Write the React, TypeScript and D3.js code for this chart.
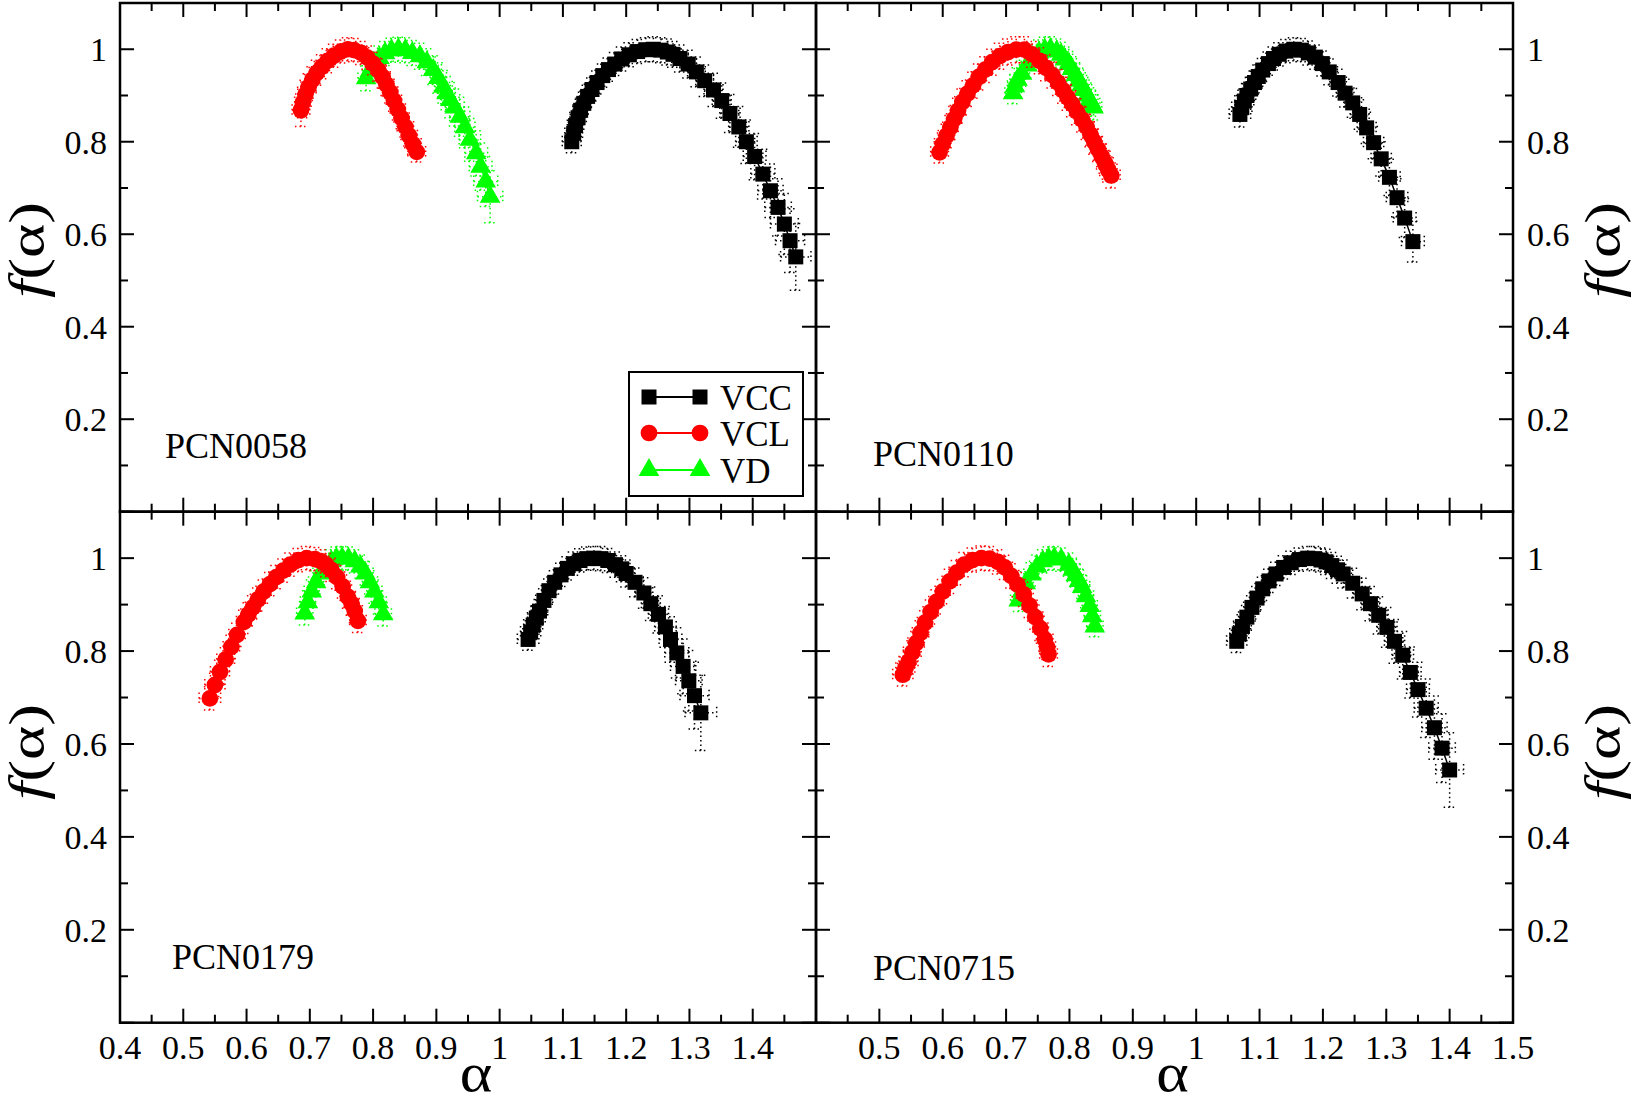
import React, { useEffect, useRef } from 'react';
import * as d3 from 'd3';

// one point: [alpha, f(alpha), error in alpha, error in f]
type Pt = [number, number, number, number];

// ---- PCN0058 ----
const vcc0058: Pt[] = [
  [1.114, 0.800, 0.015, 0.024], [1.117, 0.818, 0.014, 0.024], [1.120, 0.835, 0.013, 0.024],
  [1.124, 0.852, 0.013, 0.024], [1.128, 0.868, 0.012, 0.024], [1.133, 0.883, 0.012, 0.024],
  [1.139, 0.898, 0.012, 0.024], [1.146, 0.913, 0.012, 0.025], [1.154, 0.928, 0.012, 0.025],
  [1.163, 0.943, 0.012, 0.025], [1.172, 0.956, 0.012, 0.025], [1.182, 0.968, 0.012, 0.025],
  [1.193, 0.979, 0.012, 0.026], [1.205, 0.988, 0.012, 0.026], [1.218, 0.995, 0.012, 0.026],
  [1.231, 0.999, 0.012, 0.026], [1.243, 1.000, 0.012, 0.027], [1.255, 0.998, 0.012, 0.027],
  [1.265, 0.994, 0.013, 0.028], [1.274, 0.989, 0.013, 0.028], [1.285, 0.980, 0.013, 0.029],
  [1.298, 0.968, 0.013, 0.030], [1.311, 0.951, 0.014, 0.032], [1.324, 0.932, 0.014, 0.034],
  [1.338, 0.912, 0.015, 0.036], [1.351, 0.889, 0.015, 0.038], [1.364, 0.861, 0.016, 0.041],
  [1.378, 0.832, 0.016, 0.044], [1.390, 0.800, 0.017, 0.047], [1.403, 0.768, 0.018, 0.050],
  [1.416, 0.730, 0.019, 0.054], [1.428, 0.694, 0.020, 0.058], [1.440, 0.658, 0.021, 0.062],
  [1.450, 0.622, 0.022, 0.066], [1.459, 0.586, 0.023, 0.069], [1.468, 0.551, 0.024, 0.072],
];
const vcl0058: Pt[] = [
  [0.686, 0.868, 0.014, 0.035], [0.689, 0.885, 0.013, 0.033], [0.693, 0.902, 0.012, 0.031],
  [0.698, 0.918, 0.012, 0.029], [0.704, 0.934, 0.012, 0.028], [0.711, 0.949, 0.012, 0.027],
  [0.719, 0.962, 0.012, 0.026], [0.728, 0.975, 0.012, 0.026], [0.738, 0.986, 0.012, 0.025],
  [0.749, 0.995, 0.012, 0.025], [0.760, 1.000, 0.012, 0.025], [0.770, 0.998, 0.012, 0.025],
  [0.781, 0.992, 0.012, 0.025], [0.791, 0.982, 0.012, 0.025], [0.800, 0.969, 0.012, 0.024],
  [0.808, 0.955, 0.012, 0.024], [0.815, 0.940, 0.012, 0.024], [0.821, 0.924, 0.012, 0.024],
  [0.827, 0.907, 0.012, 0.023], [0.833, 0.889, 0.012, 0.023], [0.839, 0.870, 0.012, 0.023],
  [0.845, 0.851, 0.012, 0.023], [0.851, 0.832, 0.013, 0.022], [0.857, 0.813, 0.013, 0.022],
  [0.863, 0.795, 0.013, 0.022], [0.869, 0.778, 0.014, 0.022],
];
const vd0058: Pt[] = [
  [0.789, 0.937, 0.013, 0.027], [0.795, 0.953, 0.012, 0.026], [0.802, 0.968, 0.012, 0.026],
  [0.810, 0.981, 0.012, 0.026], [0.819, 0.991, 0.012, 0.026], [0.829, 0.998, 0.012, 0.026],
  [0.840, 1.000, 0.012, 0.026], [0.851, 0.998, 0.012, 0.027], [0.862, 0.992, 0.012, 0.027],
  [0.874, 0.985, 0.012, 0.028], [0.885, 0.972, 0.013, 0.029], [0.895, 0.955, 0.013, 0.031],
  [0.903, 0.938, 0.013, 0.033], [0.911, 0.919, 0.014, 0.035], [0.916, 0.905, 0.014, 0.036],
  [0.922, 0.890, 0.015, 0.038], [0.929, 0.874, 0.015, 0.040], [0.937, 0.854, 0.016, 0.042],
  [0.945, 0.831, 0.016, 0.044], [0.953, 0.804, 0.017, 0.046], [0.963, 0.775, 0.018, 0.049],
  [0.970, 0.746, 0.018, 0.051], [0.978, 0.714, 0.019, 0.054], [0.985, 0.681, 0.020, 0.056],
];

// ---- PCN0110 ----
const vcc0110: Pt[] = [
  [1.069, 0.859, 0.017, 0.027], [1.072, 0.874, 0.016, 0.026], [1.076, 0.888, 0.015, 0.026],
  [1.080, 0.900, 0.014, 0.026], [1.086, 0.914, 0.013, 0.025], [1.092, 0.928, 0.013, 0.025],
  [1.098, 0.941, 0.012, 0.025], [1.105, 0.955, 0.012, 0.025], [1.114, 0.969, 0.012, 0.025],
  [1.122, 0.980, 0.012, 0.025], [1.131, 0.989, 0.012, 0.025], [1.142, 0.996, 0.012, 0.025],
  [1.154, 1.000, 0.012, 0.025], [1.166, 0.998, 0.012, 0.025], [1.177, 0.992, 0.012, 0.026],
  [1.188, 0.983, 0.012, 0.026], [1.199, 0.969, 0.012, 0.027], [1.210, 0.951, 0.013, 0.028],
  [1.224, 0.928, 0.013, 0.029], [1.235, 0.905, 0.014, 0.030], [1.247, 0.884, 0.014, 0.031],
  [1.258, 0.859, 0.015, 0.032], [1.269, 0.830, 0.015, 0.034], [1.280, 0.798, 0.016, 0.035],
  [1.292, 0.763, 0.016, 0.037], [1.305, 0.723, 0.017, 0.039], [1.317, 0.679, 0.017, 0.041],
  [1.329, 0.635, 0.018, 0.042], [1.342, 0.584, 0.018, 0.044],
];
const vcl0110: Pt[] = [
  [0.595, 0.777, 0.014, 0.023], [0.600, 0.795, 0.013, 0.024], [0.606, 0.813, 0.013, 0.025],
  [0.612, 0.831, 0.012, 0.026], [0.618, 0.849, 0.012, 0.027], [0.624, 0.867, 0.012, 0.027],
  [0.631, 0.886, 0.012, 0.028], [0.639, 0.904, 0.012, 0.028], [0.648, 0.922, 0.012, 0.028],
  [0.657, 0.940, 0.012, 0.028], [0.667, 0.956, 0.012, 0.028], [0.678, 0.972, 0.012, 0.028],
  [0.690, 0.985, 0.012, 0.028], [0.703, 0.994, 0.012, 0.028], [0.716, 0.999, 0.012, 0.028],
  [0.729, 0.999, 0.012, 0.028], [0.741, 0.989, 0.012, 0.028], [0.753, 0.975, 0.012, 0.028],
  [0.763, 0.960, 0.012, 0.028], [0.773, 0.944, 0.012, 0.028], [0.782, 0.928, 0.012, 0.028],
  [0.790, 0.911, 0.012, 0.028], [0.797, 0.896, 0.012, 0.028], [0.804, 0.882, 0.012, 0.028],
  [0.812, 0.865, 0.012, 0.028], [0.820, 0.848, 0.012, 0.027], [0.827, 0.832, 0.012, 0.027],
  [0.833, 0.816, 0.012, 0.027], [0.839, 0.800, 0.013, 0.027], [0.845, 0.784, 0.013, 0.027],
  [0.851, 0.768, 0.013, 0.027], [0.856, 0.754, 0.013, 0.027], [0.861, 0.740, 0.014, 0.027],
  [0.866, 0.727, 0.014, 0.027],
];
const vd0110: Pt[] = [
  [0.711, 0.905, 0.013, 0.023], [0.714, 0.920, 0.012, 0.025], [0.718, 0.934, 0.012, 0.026],
  [0.725, 0.947, 0.012, 0.027], [0.733, 0.965, 0.012, 0.027], [0.742, 0.982, 0.012, 0.027],
  [0.752, 0.993, 0.012, 0.027], [0.761, 0.999, 0.012, 0.027], [0.770, 1.000, 0.012, 0.027],
  [0.780, 0.995, 0.012, 0.027], [0.787, 0.988, 0.012, 0.027], [0.793, 0.978, 0.012, 0.027],
  [0.799, 0.968, 0.012, 0.027], [0.804, 0.957, 0.012, 0.027], [0.810, 0.944, 0.012, 0.027],
  [0.815, 0.932, 0.012, 0.027], [0.819, 0.922, 0.012, 0.027], [0.823, 0.912, 0.012, 0.027],
  [0.828, 0.900, 0.013, 0.027], [0.832, 0.890, 0.013, 0.027], [0.835, 0.882, 0.013, 0.027],
  [0.838, 0.874, 0.013, 0.027],
];

// ---- PCN0179 ----
const vcc0179: Pt[] = [
  [1.045, 0.825, 0.017, 0.023], [1.049, 0.841, 0.016, 0.024], [1.053, 0.856, 0.015, 0.024],
  [1.058, 0.871, 0.014, 0.025], [1.063, 0.886, 0.013, 0.025], [1.070, 0.909, 0.013, 0.025],
  [1.078, 0.930, 0.012, 0.025], [1.087, 0.948, 0.012, 0.025], [1.097, 0.964, 0.012, 0.025],
  [1.107, 0.978, 0.012, 0.025], [1.117, 0.988, 0.012, 0.025], [1.127, 0.995, 0.012, 0.025],
  [1.138, 0.999, 0.012, 0.025], [1.149, 1.000, 0.012, 0.025], [1.160, 0.999, 0.012, 0.026],
  [1.171, 0.995, 0.012, 0.026], [1.183, 0.986, 0.012, 0.027], [1.193, 0.977, 0.013, 0.028],
  [1.200, 0.967, 0.013, 0.029], [1.214, 0.948, 0.013, 0.031], [1.228, 0.925, 0.014, 0.033],
  [1.239, 0.902, 0.015, 0.036], [1.251, 0.879, 0.016, 0.040], [1.262, 0.852, 0.017, 0.044],
  [1.270, 0.825, 0.018, 0.049], [1.280, 0.796, 0.019, 0.054], [1.290, 0.767, 0.020, 0.059],
  [1.299, 0.736, 0.021, 0.065], [1.308, 0.704, 0.023, 0.072], [1.318, 0.667, 0.025, 0.081],
];
const vcl0179: Pt[] = [
  [0.542, 0.698, 0.017, 0.025], [0.550, 0.727, 0.016, 0.025], [0.558, 0.755, 0.015, 0.025],
  [0.567, 0.782, 0.014, 0.025], [0.576, 0.809, 0.013, 0.025], [0.585, 0.835, 0.013, 0.025],
  [0.596, 0.863, 0.012, 0.025], [0.603, 0.879, 0.012, 0.025], [0.610, 0.894, 0.012, 0.025],
  [0.618, 0.911, 0.012, 0.025], [0.627, 0.928, 0.012, 0.025], [0.637, 0.944, 0.012, 0.025],
  [0.647, 0.959, 0.012, 0.025], [0.658, 0.973, 0.012, 0.025], [0.669, 0.986, 0.012, 0.025],
  [0.682, 0.996, 0.012, 0.025], [0.695, 1.000, 0.012, 0.025], [0.708, 0.998, 0.012, 0.025],
  [0.718, 0.993, 0.012, 0.025], [0.726, 0.985, 0.012, 0.025], [0.734, 0.975, 0.012, 0.025],
  [0.743, 0.959, 0.012, 0.025], [0.752, 0.939, 0.012, 0.025], [0.760, 0.917, 0.012, 0.025],
  [0.766, 0.902, 0.012, 0.025], [0.771, 0.886, 0.012, 0.025], [0.776, 0.865, 0.013, 0.025],
];
const vd0179: Pt[] = [
  [0.692, 0.881, 0.013, 0.025], [0.697, 0.905, 0.012, 0.025], [0.703, 0.928, 0.012, 0.025],
  [0.710, 0.948, 0.012, 0.025], [0.717, 0.967, 0.012, 0.025], [0.725, 0.983, 0.012, 0.025],
  [0.734, 0.993, 0.012, 0.025], [0.742, 0.999, 0.012, 0.025], [0.751, 1.000, 0.012, 0.025],
  [0.761, 0.999, 0.012, 0.025], [0.771, 0.993, 0.012, 0.025], [0.780, 0.982, 0.012, 0.025],
  [0.788, 0.967, 0.012, 0.025], [0.795, 0.948, 0.012, 0.025], [0.802, 0.928, 0.012, 0.025],
  [0.809, 0.905, 0.012, 0.025], [0.816, 0.879, 0.013, 0.025],
];

// ---- PCN0715 ----
const vcc0715: Pt[] = [
  [1.064, 0.821, 0.016, 0.024], [1.068, 0.837, 0.015, 0.024], [1.073, 0.853, 0.014, 0.025],
  [1.080, 0.873, 0.013, 0.025], [1.088, 0.894, 0.013, 0.025], [1.096, 0.914, 0.012, 0.025],
  [1.105, 0.934, 0.012, 0.025], [1.115, 0.951, 0.012, 0.025], [1.126, 0.966, 0.012, 0.025],
  [1.138, 0.980, 0.012, 0.025], [1.150, 0.990, 0.012, 0.025], [1.163, 0.997, 0.012, 0.025],
  [1.176, 1.000, 0.012, 0.025], [1.187, 0.999, 0.012, 0.026], [1.197, 0.996, 0.012, 0.026],
  [1.205, 0.992, 0.012, 0.027], [1.214, 0.984, 0.013, 0.028], [1.223, 0.975, 0.013, 0.029],
  [1.232, 0.966, 0.013, 0.030], [1.247, 0.946, 0.014, 0.032], [1.262, 0.923, 0.014, 0.034],
  [1.275, 0.902, 0.015, 0.037], [1.288, 0.877, 0.015, 0.040], [1.301, 0.851, 0.016, 0.043],
  [1.313, 0.821, 0.016, 0.047], [1.326, 0.791, 0.017, 0.051], [1.338, 0.754, 0.017, 0.055],
  [1.350, 0.717, 0.018, 0.059], [1.363, 0.677, 0.019, 0.063], [1.376, 0.635, 0.020, 0.068],
  [1.388, 0.591, 0.021, 0.074], [1.400, 0.544, 0.022, 0.080],
];
const vcl0715: Pt[] = [
  [0.537, 0.749, 0.016, 0.024], [0.541, 0.763, 0.015, 0.024], [0.546, 0.777, 0.015, 0.025],
  [0.552, 0.797, 0.014, 0.025], [0.558, 0.817, 0.013, 0.025], [0.565, 0.839, 0.013, 0.026],
  [0.572, 0.861, 0.012, 0.026], [0.581, 0.884, 0.012, 0.026], [0.590, 0.906, 0.012, 0.026],
  [0.600, 0.928, 0.012, 0.026], [0.611, 0.950, 0.012, 0.026], [0.622, 0.969, 0.012, 0.026],
  [0.634, 0.986, 0.012, 0.026], [0.647, 0.996, 0.012, 0.026], [0.661, 1.000, 0.012, 0.026],
  [0.674, 0.999, 0.012, 0.026], [0.687, 0.992, 0.012, 0.026], [0.698, 0.980, 0.012, 0.026],
  [0.708, 0.962, 0.012, 0.026], [0.718, 0.943, 0.012, 0.026], [0.728, 0.922, 0.012, 0.026],
  [0.737, 0.898, 0.012, 0.026], [0.746, 0.873, 0.012, 0.026], [0.754, 0.849, 0.012, 0.026],
  [0.761, 0.825, 0.013, 0.026], [0.765, 0.808, 0.013, 0.026], [0.767, 0.793, 0.014, 0.026],
];
const vd0715: Pt[] = [
  [0.720, 0.909, 0.013, 0.024], [0.725, 0.928, 0.012, 0.025], [0.731, 0.946, 0.012, 0.025],
  [0.740, 0.965, 0.012, 0.025], [0.749, 0.982, 0.012, 0.025], [0.758, 0.993, 0.012, 0.025],
  [0.767, 0.999, 0.012, 0.025], [0.776, 1.000, 0.012, 0.025], [0.787, 0.997, 0.012, 0.025],
  [0.799, 0.986, 0.012, 0.025], [0.805, 0.975, 0.012, 0.025], [0.810, 0.963, 0.012, 0.025],
  [0.815, 0.951, 0.012, 0.025], [0.820, 0.938, 0.012, 0.025], [0.826, 0.918, 0.012, 0.025],
  [0.832, 0.897, 0.012, 0.024], [0.836, 0.875, 0.013, 0.023], [0.840, 0.853, 0.013, 0.022],
];

// axis ticks
const xMajor = [0.4, 0.5, 0.6, 0.7, 0.8, 0.9, 1.0, 1.1, 1.2, 1.3, 1.4, 1.5];
const xMinor = [0.45, 0.55, 0.65, 0.75, 0.85, 0.95, 1.05, 1.15, 1.25, 1.35, 1.45];
const yMajor = [0, 0.2, 0.4, 0.6, 0.8, 1.0];
const yMinor = [0.1, 0.3, 0.5, 0.7, 0.9];
const yLabels = [0.2, 0.4, 0.6, 0.8, 1.0];
const xLabelsLeft = [0.4, 0.5, 0.6, 0.7, 0.8, 0.9, 1.0, 1.1, 1.2, 1.3, 1.4];
const xLabelsRight = [0.5, 0.6, 0.7, 0.8, 0.9, 1.0, 1.1, 1.2, 1.3, 1.4, 1.5];

const seriesNames = ['VCC', 'VCL', 'VD'];
const seriesColors = ['#000000', '#ff0000', '#00ff00'];

const W = 1634;
const H = 1105;
const FONT = "'Liberation Serif', 'Times New Roman', serif";

const panels = [
  { name: 'PCN0058', sets: [vcc0058, vcl0058, vd0058], col: 0, row: 0, tag: [0.471, 0.116] },
  { name: 'PCN0110', sets: [vcc0110, vcl0110, vd0110], col: 1, row: 0, tag: [0.490, 0.099] },
  { name: 'PCN0179', sets: [vcc0179, vcl0179, vd0179], col: 0, row: 1, tag: [0.482, 0.116] },
  { name: 'PCN0715', sets: [vcc0715, vcl0715, vd0715], col: 1, row: 1, tag: [0.490, 0.092] },
];
const colX = [[120, 816], [816, 1513]];
const rowY = [[3, 511.7], [511.7, 1022.7]];

const symbols = [d3.symbolSquare, d3.symbolCircle, d3.symbolTriangle];
const symbolSizes = [225, 220, 185];

const fmt = (v: number) => (Math.abs(v - 1) < 1e-9 ? '1' : v.toFixed(1));

const App = () => {
  const ref = useRef<SVGSVGElement>(null);

  useEffect(() => {
    const svg = d3.select(ref.current);
    svg.selectAll('*').remove();
    svg.append('rect').attr('width', W).attr('height', H).attr('fill', '#fff');

    panels.forEach((p) => {
      const [x0, x1] = colX[p.col];
      const [y0, y1] = rowY[p.row];
      const x = d3.scaleLinear().domain([0.4, 1.5]).range([x0, x1]);
      const y = d3.scaleLinear().domain([0, 1.1]).range([y1, y0]);
      const g = svg.append('g');

      // draw order: VD, VCL, VCC
      [2, 1, 0].forEach((si) => {
        const data = p.sets[si];
        const color = seriesColors[si];

        // dotted error bars in both directions, with caps
        const c = 6;
        g.append('g')
          .selectAll('path')
          .data(data)
          .enter()
          .append('path')
          .attr('d', (d) => {
            const px = x(d[0]);
            const py = y(d[1]);
            const yt = y(d[1] + d[3]);
            const yb = y(d[1] - d[3]);
            const xl = x(d[0] - d[2]);
            const xr = x(d[0] + d[2]);
            return (
              `M${px},${yb}V${yt}M${px - c},${yt}H${px + c}M${px - c},${yb}H${px + c}` +
              `M${xl},${py}H${xr}M${xl},${py - c}V${py + c}M${xr},${py - c}V${py + c}`
            );
          })
          .attr('fill', 'none')
          .attr('stroke', color)
          .attr('stroke-width', 1.5)
          .attr('stroke-dasharray', '1.5 3');

        const line = d3.line<Pt>().x((d) => x(d[0])).y((d) => y(d[1]));
        g.append('path')
          .datum(data)
          .attr('d', line)
          .attr('fill', 'none')
          .attr('stroke', color)
          .attr('stroke-width', 1.5);

        const sym = d3.symbol().type(symbols[si]).size(symbolSizes[si]);
        g.append('g')
          .selectAll('path')
          .data(data)
          .enter()
          .append('path')
          .attr('transform', (d) => `translate(${x(d[0])},${y(d[1])})`)
          .attr('d', sym)
          .attr('fill', color);
      });

      // inward ticks on all four sides
      const ticks = g.append('g').attr('stroke', '#000').attr('stroke-width', 2);
      const xt = [...xMajor.map((v) => [v, 14]), ...xMinor.map((v) => [v, 8])];
      xt.forEach(([v, len]) => {
        ticks.append('line').attr('x1', x(v)).attr('x2', x(v)).attr('y1', y1).attr('y2', y1 - len);
        ticks.append('line').attr('x1', x(v)).attr('x2', x(v)).attr('y1', y0).attr('y2', y0 + len);
      });
      const yt = [...yMajor.map((v) => [v, 14]), ...yMinor.map((v) => [v, 8])];
      yt.forEach(([v, len]) => {
        ticks.append('line').attr('y1', y(v)).attr('y2', y(v)).attr('x1', x0).attr('x2', x0 + len);
        ticks.append('line').attr('y1', y(v)).attr('y2', y(v)).attr('x1', x1).attr('x2', x1 - len);
      });

      g.append('rect')
        .attr('x', x0)
        .attr('y', y0)
        .attr('width', x1 - x0)
        .attr('height', y1 - y0)
        .attr('fill', 'none')
        .attr('stroke', '#000')
        .attr('stroke-width', 2.5);

      // tick labels
      const lab = g.append('g').attr('font-family', FONT).attr('font-size', 34).attr('fill', '#000');
      yLabels.forEach((v) => {
        lab.append('text')
          .attr('x', p.col === 0 ? x0 - 13 : x1 + 14)
          .attr('y', y(v) + 12)
          .attr('text-anchor', p.col === 0 ? 'end' : 'start')
          .text(fmt(v));
      });
      if (p.row === 1) {
        (p.col === 0 ? xLabelsLeft : xLabelsRight).forEach((v) => {
          lab.append('text')
            .attr('x', x(v))
            .attr('y', 1059)
            .attr('text-anchor', 'middle')
            .text(fmt(v));
        });
        svg.append('text')
          .attr('transform', `translate(${(x0 + x1) / 2 + 8},1091) scale(1.15,1)`)
          .attr('text-anchor', 'middle')
          .attr('font-family', FONT)
          .attr('font-size', 54)
          .text('α');
      }

      // f(alpha) axis title, written bottom to top
      const ft = svg.append('text')
        .attr('transform', `translate(${p.col === 0 ? 44 : 1620},${p.row === 0 ? 250 : 752}) rotate(-90)`)
        .attr('text-anchor', 'middle')
        .attr('font-family', FONT)
        .attr('font-size', 50)
        .attr('textLength', 96)
        .attr('lengthAdjust', 'spacingAndGlyphs');
      ft.append('tspan').attr('font-style', 'italic').text('f');
      ft.append('tspan').text('(α)');

      // panel name
      g.append('text')
        .attr('x', x(p.tag[0]))
        .attr('y', y(p.tag[1]))
        .attr('font-family', FONT)
        .attr('font-size', 36)
        .text(p.name);

      // legend in the first panel
      if (p.col === 0 && p.row === 0) {
        const lg = g.append('g');
        lg.append('rect')
          .attr('x', 629)
          .attr('y', 372)
          .attr('width', 174)
          .attr('height', 124)
          .attr('fill', '#fff')
          .attr('stroke', '#000')
          .attr('stroke-width', 2);
        const rows = [397, 433, 470];
        seriesNames.forEach((name, i) => {
          const ry = rows[i];
          lg.append('line')
            .attr('x1', 649).attr('x2', 700).attr('y1', ry).attr('y2', ry)
            .attr('stroke', seriesColors[i]).attr('stroke-width', 2);
          const sym = d3.symbol().type(symbols[i]).size(symbolSizes[i]);
          [649, 700].forEach((sx) => {
            lg.append('path')
              .attr('transform', `translate(${sx},${ry})`)
              .attr('d', sym)
              .attr('fill', seriesColors[i]);
          });
          lg.append('text')
            .attr('x', 720)
            .attr('y', ry + 12.5)
            .attr('font-family', FONT)
            .attr('font-size', 35)
            .text(name);
        });
      }
    });
  }, []);

  return <svg ref={ref} width={W} height={H} style={{ position: 'absolute', left: 0, top: 0 }} />;
};

export default App;
